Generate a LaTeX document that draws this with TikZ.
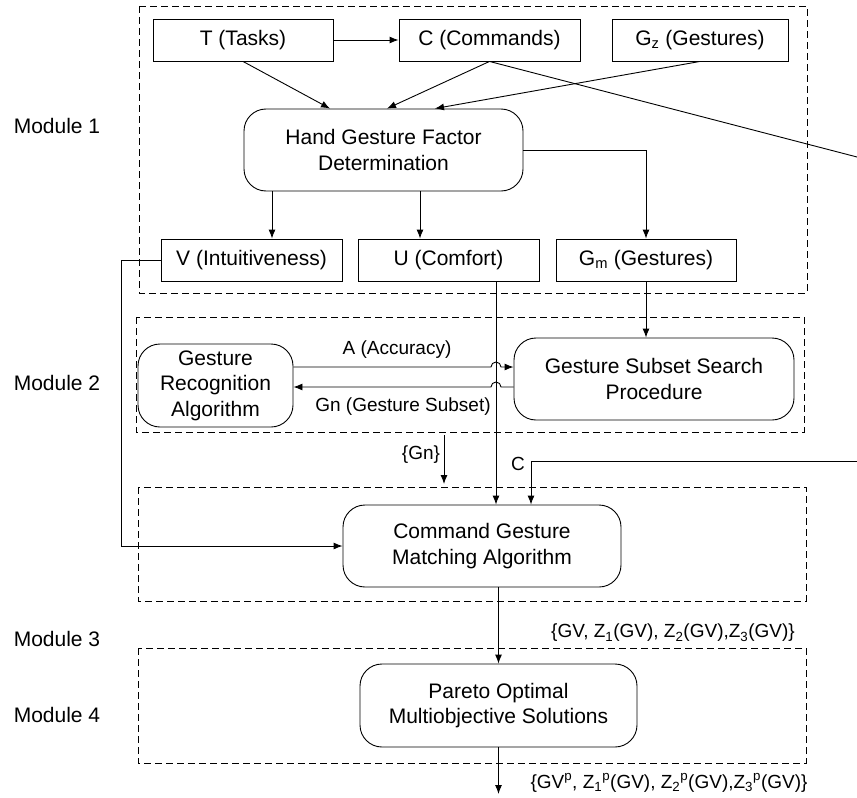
\documentclass[tikz,border=0pt]{standalone}
\usepackage{fontspec}
\setmainfont{Liberation Sans}
\usetikzlibrary{arrows.meta}
\tikzset{
    >={Latex[length=9bp,width=7bp]},
    box/.style={draw, minimum height=42bp, inner sep=0pt},
    procbox/.style={draw, rounded corners=22bp, align=center, inner sep=0pt},
    module/.style={dash pattern=on 7bp off 4bp},
    tag/.style={font=\fontsize{19bp}{22bp}\selectfont, inner sep=0pt},
}
\begin{document}
\begin{tikzpicture}[x=1bp, y=-1bp, line width=0.9bp, font=\fontsize{21bp}{25.5bp}\selectfont]
    \useasboundingbox (0,0) rectangle (857,798);
    % modules
    \draw[module] (139,6) rectangle (807,293);
    \draw[module] (136,317) rectangle (804,432);
    \draw[module] (138,487) rectangle (806,601);
    \draw[module] (138,648) rectangle (806,763);
    \node (mod1) at (57,126) {Module 1};
    \node (mod2) at (57,383) {Module 2};
    \node (mod3) at (57,639) {Module 3};
    \node (mod4) at (57,715) {Module 4};
    % module 1
    \node[box, minimum width=180bp] (tasks) at (243,40) {T (Tasks)};
    \node[box, minimum width=181bp] (commands) at (489.5,40) {C (Commands)};
    \node[box, minimum width=176bp] (gz) at (700,40) {G\textsubscript{z} (Gestures)};
    \node[procbox, minimum width=279bp, minimum height=82bp] (hgfd) at (383.5,150) {Hand Gesture Factor\\Determination};
    \node[box, minimum width=181bp] (intuit) at (251.5,260) {V (Intuitiveness)};
    \node[box, minimum width=181bp] (comfort) at (448.5,260) {U (Comfort)};
    \node[box, minimum width=180bp] (gm) at (646,260) {G\textsubscript{m} (Gestures)};
    \draw[->] (tasks) -- (commands);
    \draw[->] (tasks.south) -- (330,0 |- hgfd.north);
    \draw[->] (commands.south) -- (387,0 |- hgfd.north);
    \draw[->] (gz.south) -- (435,0 |- hgfd.north);
    \coordinate (cout) at (857,157);
    \draw (commands.south) -- (cout);
    \draw[->] (hgfd.east) -| (gm.north);
    \draw[->] (272,0 |- hgfd.south) -- (272,0 |- intuit.north);
    \draw[->] (420,0 |- hgfd.south) -- (420,0 |- comfort.north);
    % module 2
    \node[procbox, minimum width=155bp, minimum height=83bp] (gra) at (215.5,385.5) {Gesture\\Recognition\\Algorithm};
    \node[procbox, minimum width=280bp, minimum height=82bp] (gssp) at (654,379) {Gesture Subset Search\\Procedure};
    \draw[->] (gm.south) -- (gm.south |- gssp.north);
    \draw[->] (gra.east |- 0,367) -- (491,367) arc (180:360:5) -- (gssp.west |- 0,367);
    \draw[->] (gssp.west |- 0,387) -- (501,387) arc (0:-180:5) -- (gra.east |- 0,387);
    \node[tag] (acc) at (397,350) {A (Accuracy)};
    \node[tag] (gnsub) at (403,407) {Gn (Gesture Subset)};
    % module 3
    \node[procbox, minimum width=278bp, minimum height=82bp] (cgma) at (482,546) {Command Gesture\\Matching Algorithm};
    \draw[->] (496,0 |- comfort.south) -- (496,0 |- cgma.north);
    \coordinate (gnin) at (444,435);
    \coordinate (gnout) at (444,484);
    \draw[->] (gnin) -- (gnout);
    \node[tag] (gnset) at (421,455) {\{Gn\}};
    \coordinate (cin) at (857,461);
    \draw[->] (cin) -| (531,0 |- cgma.north);
    \node[tag] (clabel) at (518,464) {C};
    \draw[->] (intuit.west) -- (121,0 |- intuit.west) |- (cgma.west);
    % module 4
    \node[procbox, minimum width=277bp, minimum height=83bp] (pareto) at (498.5,705.5) {Pareto Optimal\\Multiobjective Solutions};
    \draw[->] (pareto.north |- cgma.south) -- (pareto.north);
    \node[tag] (gvset) at (673,633) {\{GV, Z\textsubscript{1}(GV), Z\textsubscript{2}(GV),Z\textsubscript{3}(GV)\}};
    \coordinate (out) at (498.5,794);
    \draw[->] (pareto.south) -- (out);
    \node[tag] (gvpset) at (669,783) {\{GV\textsuperscript{p}, Z\textsubscript{1}\textsuperscript{p}(GV), Z\textsubscript{2}\textsuperscript{p}(GV),Z\textsubscript{3}\textsuperscript{p}(GV)\}};
\end{tikzpicture}
\end{document}
